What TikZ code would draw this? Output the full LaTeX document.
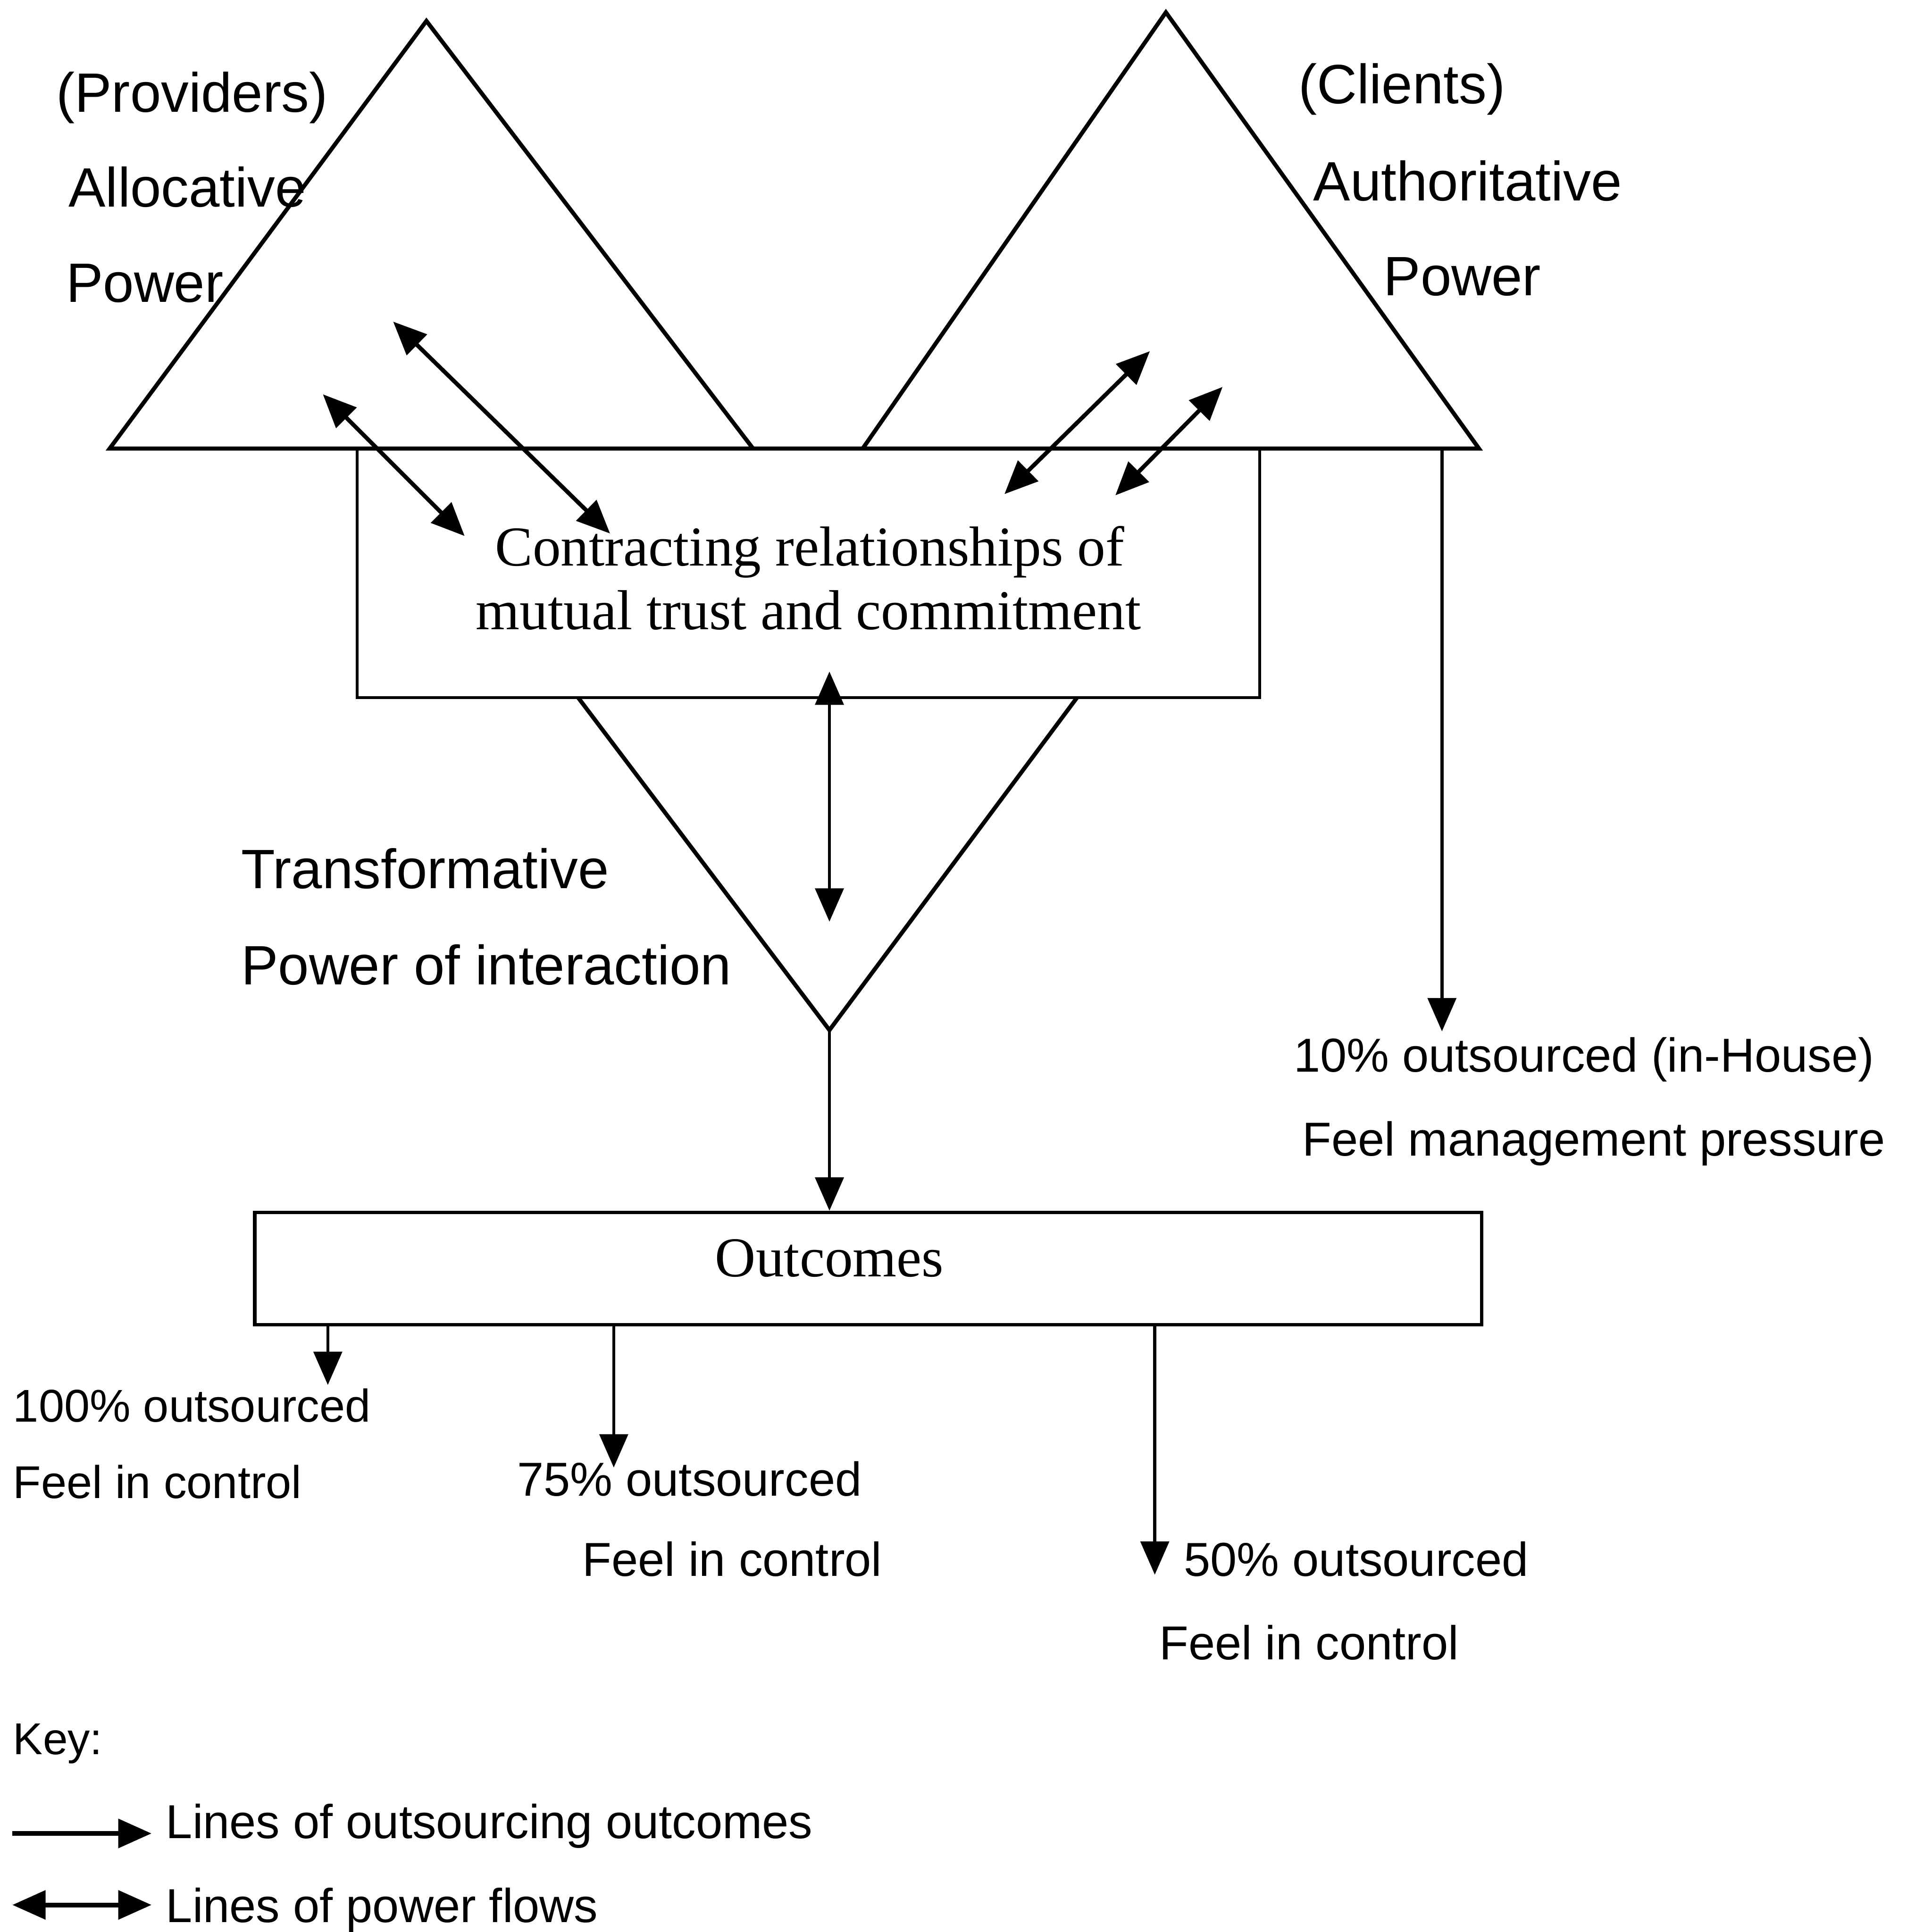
\documentclass[tikz,border=0pt]{standalone}
\usepackage{fontspec}
\setmainfont{Liberation Serif}
\newfontfamily\labelfont{Liberation Sans}
\usetikzlibrary{arrows.meta}
\begin{document}
\begin{tikzpicture}[x=0.01cm,y=-0.01cm,
  heavy/.style={line width=0.95pt, line join=miter},
  boxline/.style={draw, line width=0.7pt, inner sep=0pt},
  outarrow/.style={line width=0.7pt, -{Triangle[length=0.27cm,width=0.23cm]}},
  powerarrow/.style={line width=0.95pt, {Triangle[length=0.27cm,width=0.23cm]}-{Triangle[length=0.27cm,width=0.23cm]}},
  keyarrow/.style={line width=1.1pt},
  biglabel/.style={anchor=base west, inner sep=0pt, font=\labelfont\fontsize{12.8}{15}\selectfont},
  smalllabel/.style={anchor=base west, inner sep=0pt, font=\labelfont\fontsize{11}{13}\selectfont},
  leftlabel/.style={smalllabel, font=\labelfont\fontsize{10.6}{13}\selectfont},
  boxtext/.style={anchor=base, inner sep=0pt, font=\fontsize{13}{15}\selectfont},
]
\useasboundingbox (0,0) rectangle (1547,1568);

% the two power triangles sharing one base line
\coordinate (Lbl) at (89,364);
\coordinate (Lapex) at (346,17);
\coordinate (Lbr) at (611,364);
\coordinate (Rbl) at (700,364);
\coordinate (Rapex) at (946,10);
\coordinate (Rbr) at (1200,364);

% contracting box
\node[boxline, minimum width=7.32cm, minimum height=2.02cm] (contract) at (656,465) {};
\draw[heavy] (Lbr) -- (Lapex) -- (Lbl) -- (Rbr) -- (Rapex) -- (Rbl);
\node[boxtext] (ct1) at (657,459) {Contracting relationships of};
\node[boxtext] (ct2) at (656,511) {mutual trust and commitment};

% transformative V below the box
\coordinate (vl) at (469,566);
\coordinate (vtip) at (673,836);
\coordinate (vr) at (874,566);
\draw[heavy] (vl) -- (vtip) -- (vr);

% outcomes box
\node[draw, line width=0.8pt, inner sep=0pt, minimum width=9.95cm, minimum height=0.91cm] (outcomes) at (704.5,1029.5) {};
\node[boxtext] (outlabel) at (673,1036) {Outcomes};

% power flows
\coordinate (p1a) at (262,320);  \coordinate (p1b) at (377,435);
\coordinate (p2a) at (319,261);  \coordinate (p2b) at (495,433);
\coordinate (p3a) at (933,285);  \coordinate (p3b) at (815,401);
\coordinate (p4a) at (992,314);  \coordinate (p4b) at (905,402);
\coordinate (pva) at (673,545);  \coordinate (pvb) at (673,748);
\draw[powerarrow] (p1a) -- (p1b);
\draw[powerarrow] (p2a) -- (p2b);
\draw[powerarrow] (p3a) -- (p3b);
\draw[powerarrow] (p4a) -- (p4b);
\draw[powerarrow, line width=0.7pt] (pva) -- (pvb);

% outsourcing outcomes
\draw[outarrow] (vtip) -- (vtip |- outcomes.north);
\coordinate (rs) at (1170,364);
\coordinate (re) at (1170,837);
\draw[outarrow] (rs) -- (re);
\coordinate (o1) at (266,1124);
\coordinate (o2) at (498,1191);
\coordinate (o3) at (937,1278);
\draw[outarrow] (outcomes.south -| o1) -- (o1);
\draw[outarrow] (outcomes.south -| o2) -- (o2);
\draw[outarrow] (outcomes.south -| o3) -- (o3);

% labels
\node[biglabel] (prov) at (45,91) {(Providers)};
\node[biglabel] (alloc) at (55,168) {Allocative};
\node[biglabel] (lpow) at (53,245) {Power};
\node[biglabel] (cli) at (1053,84) {(Clients)};
\node[biglabel] (auth) at (1065,163) {Authoritative};
\node[biglabel] (rpow) at (1122,240) {Power};
\node[biglabel] (trans) at (195,721) {Transformative};
\node[biglabel] (inter) at (195,799) {Power of interaction};

\node[smalllabel] (ih1) at (1049,870) {10\% outsourced (in-House)};
\node[smalllabel] (ih2) at (1056,938) {Feel management pressure};
\node[leftlabel] (a1) at (10,1154) {100\% outsourced};
\node[leftlabel] (a2) at (10,1216) {Feel in control};
\node[smalllabel] (b1) at (419,1214) {75\% outsourced};
\node[smalllabel] (b2) at (472,1279) {Feel in control};
\node[smalllabel] (c1) at (960,1279) {50\% outsourced};
\node[smalllabel] (c2) at (940,1347) {Feel in control};

% key
\node[leftlabel, font=\labelfont\fontsize{10.3}{13}\selectfont] (key) at (10,1424) {Key:};
\coordinate (k1a) at (10,1488); \coordinate (k1b) at (123,1488);
\coordinate (k2a) at (10,1546); \coordinate (k2b) at (123,1546);
\draw[outarrow, keyarrow] (k1a) -- (k1b);
\draw[powerarrow, keyarrow] (k2a) -- (k2b);
\node[smalllabel] (kl1) at (134,1492) {Lines of outsourcing outcomes};
\node[smalllabel] (kl2) at (134,1560) {Lines of power flows};
\end{tikzpicture}
\end{document}
